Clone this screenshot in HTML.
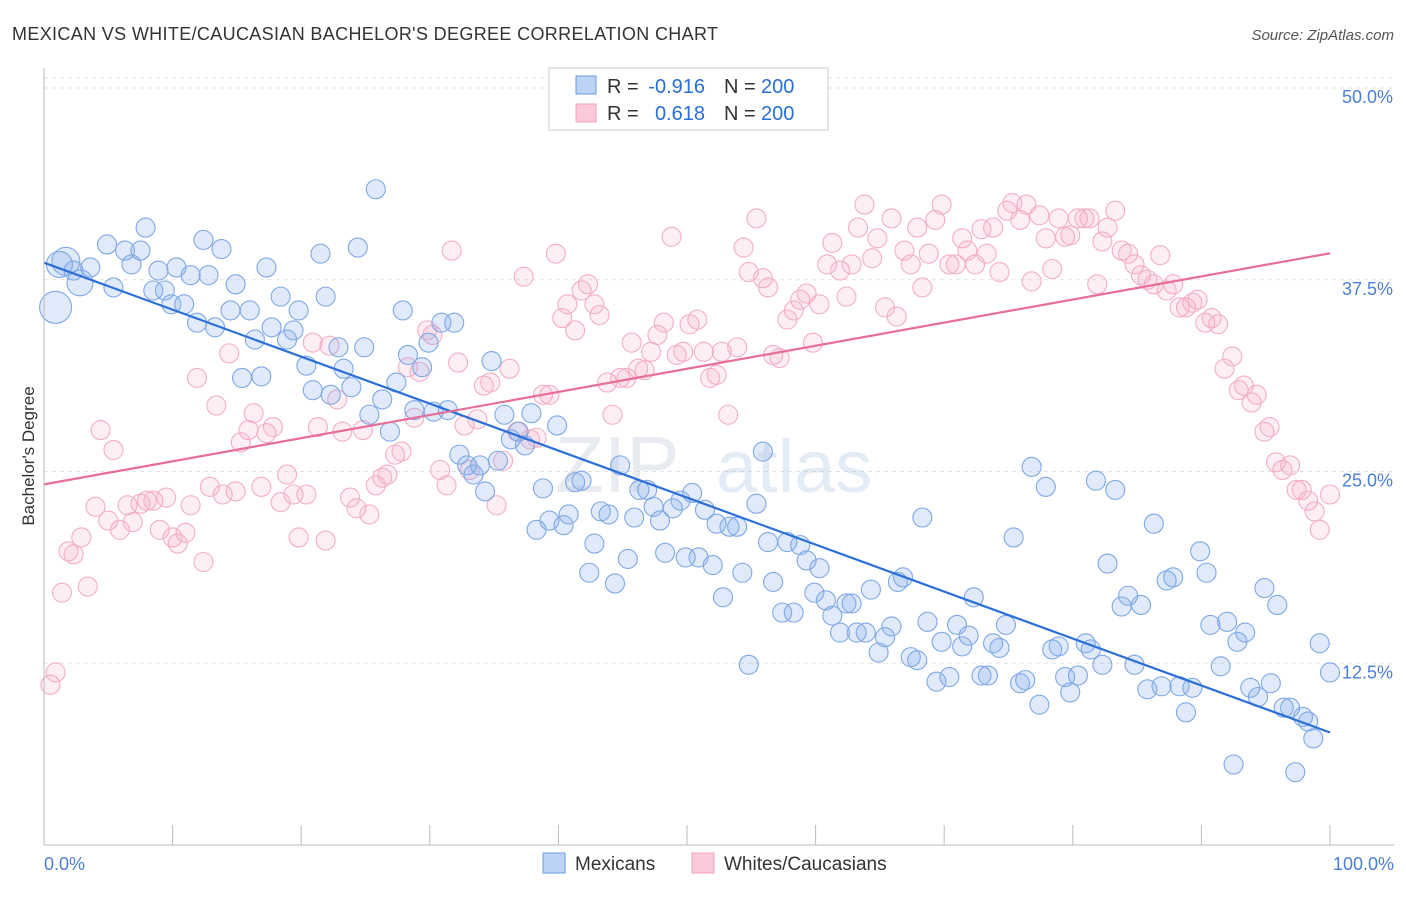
<!DOCTYPE html>
<html><head><meta charset="utf-8"><style>
body{margin:0;background:#fff;font-family:"Liberation Sans",sans-serif}
svg text{font-family:"Liberation Sans",sans-serif}
</style></head><body>
<svg id="c" width="1406" height="892" xmlns="http://www.w3.org/2000/svg">
<text x="12" y="40" font-size="18" fill="#333" textLength="706">MEXICAN VS WHITE/CAUCASIAN BACHELOR'S DEGREE CORRELATION CHART</text>
<text x="1394" y="40" font-size="15" fill="#555" font-style="italic" text-anchor="end">Source: ZipAtlas.com</text>
<text x="34" y="456" font-size="17" fill="#333" text-anchor="middle" transform="rotate(-90 34 456)">Bachelor's Degree</text>
<g id="grid"></g>
<g id="wm" opacity="0.22">
<text x="555" y="492" font-size="80" font-family="Liberation Serif" fill="#9aa8bc">ZIP</text>
<text x="716" y="492" font-size="74" fill="#7ea6da">atlas</text></g>
<g id="pts"></g>
<g id="lines"></g>
<g id="axes"></g>
<g>
<rect x="549" y="68" width="279" height="62" fill="#fff" stroke="#ccc"/>
<rect x="576" y="76" width="20" height="18" fill="#bcd3f5" stroke="#6a9be0"/>
<text x="607" y="93" font-size="20" fill="#333">R =</text>
<text x="705" y="93" font-size="20" fill="#2a6fd6" text-anchor="end">-0.916</text>
<text x="724" y="93" font-size="20" fill="#333">N =</text>
<text x="761" y="93" font-size="20" fill="#2a6fd6">200</text>
<rect x="576" y="104" width="20" height="18" fill="#fbc9d9" stroke="#f0a0bd"/>
<text x="607" y="120" font-size="20" fill="#333">R =</text>
<text x="705" y="120" font-size="20" fill="#2a6fd6" text-anchor="end">0.618</text>
<text x="724" y="120" font-size="20" fill="#333">N =</text>
<text x="761" y="120" font-size="20" fill="#2a6fd6">200</text>
</g>
<g>
<rect x="543" y="853" width="22" height="20" fill="#bcd3f5" stroke="#6a9be0"/>
<text x="575" y="870" font-size="19" fill="#333">Mexicans</text>
<rect x="692" y="853" width="22" height="20" fill="#fbc9d9" stroke="#f0a0bd"/>
<text x="724" y="870" font-size="19" fill="#333">Whites/Caucasians</text>
</g>
</svg>
<script>
const blueX=[0.9,1.2,1.7,2.8,2.3,3.6,4.9,5.4,6.3,6.8,7.5,7.9,8.5,8.9,9.4,9.9,10.3,10.9,11.4,11.9,12.4,12.8,13.3,13.8,14.5,14.9,15.4,16.0,16.4,16.9,17.3,17.7,18.4,18.9,19.4,19.8,20.4,20.9,21.5,21.9,22.3,22.9,23.3,23.9,24.4,24.9,25.3,25.8,26.3,26.9,27.4,27.9,28.3,28.8,29.4,29.9,30.3,30.9,31.4,31.9,32.3,32.9,33.4,33.9,34.3,34.8,35.3,35.8,36.3,36.9,37.4,37.9,38.3,38.8,39.3,39.9,40.4,40.8,41.3,41.8,42.4,42.8,43.3,43.9,44.4,44.8,45.4,45.9,46.3,46.9,47.4,47.9,48.3,48.9,49.5,49.9,50.4,50.9,51.4,52.0,52.3,52.8,53.3,53.9,54.3,54.8,55.4,55.9,56.3,56.7,57.4,57.8,58.3,58.8,59.3,59.9,60.3,60.8,61.3,61.9,62.4,62.8,63.2,63.9,64.3,64.9,65.4,65.9,66.4,66.8,67.4,67.9,68.3,68.7,69.4,69.8,70.4,71.0,71.4,71.9,72.3,72.9,73.4,73.8,74.3,74.8,75.4,75.9,76.3,76.8,77.4,77.9,78.4,78.9,79.4,79.8,80.4,81.0,81.4,81.8,82.3,82.7,83.3,83.8,84.3,84.8,85.3,85.8,86.3,86.9,87.3,87.8,88.3,88.8,89.3,89.9,90.4,90.7,91.5,92.0,92.5,92.8,93.4,93.8,94.4,94.9,95.4,95.9,96.4,96.9,97.3,97.9,98.3,98.7,99.2,100.0];
const blueY=[35.7,38.5,38.7,37.3,38.1,38.3,39.8,37.0,39.4,38.5,39.4,40.9,36.8,38.1,36.8,35.9,38.3,35.9,37.8,34.7,40.1,37.8,34.4,39.5,35.5,37.2,31.1,35.5,33.6,31.2,38.3,34.4,36.4,33.6,34.2,35.5,31.9,30.3,39.2,36.4,30.0,33.1,31.7,30.5,39.6,33.1,28.7,43.4,29.7,27.6,30.8,35.5,32.6,29.0,31.8,33.4,28.9,34.7,29.0,34.7,26.1,25.4,24.8,25.4,23.7,32.2,25.7,28.7,27.1,27.6,26.7,28.8,21.2,23.9,21.8,28.0,21.5,22.2,24.3,24.4,18.4,20.3,22.4,22.2,17.7,25.4,19.3,22.0,23.8,23.8,22.7,21.8,19.7,22.6,23.1,19.4,23.6,19.4,22.5,18.9,21.6,16.8,21.4,21.4,18.4,12.4,22.9,26.3,20.4,17.8,15.8,20.4,15.8,20.2,19.2,17.1,18.7,16.6,15.6,14.5,16.4,16.4,14.5,14.5,17.3,13.2,14.2,14.9,17.8,18.1,12.9,12.7,22.0,15.2,11.3,13.9,11.6,15.0,13.6,14.3,16.8,11.7,11.7,13.8,13.5,15.0,20.7,11.2,11.4,25.3,9.8,24.0,13.4,13.6,11.6,10.6,11.7,13.8,13.4,24.4,12.4,19.0,23.8,16.2,16.9,12.4,16.3,10.8,21.6,11.0,17.9,18.1,11.0,9.3,10.9,19.8,18.4,15.0,12.3,15.2,5.9,13.9,14.5,10.9,10.3,17.4,11.2,16.3,9.6,9.6,5.4,9.0,8.7,7.6,13.8,11.9];
const pinkX=[0.5,0.9,1.4,1.9,2.3,2.9,3.4,4.0,4.4,5.0,5.4,5.9,6.5,6.9,7.5,8.0,8.5,9.0,9.5,10.0,10.4,11.0,11.4,11.9,12.4,12.9,13.4,13.9,14.4,14.9,15.3,15.9,16.3,16.9,17.3,17.8,18.4,18.9,19.4,19.8,20.4,20.9,21.3,21.9,22.2,22.8,23.2,23.8,24.3,24.8,25.3,25.8,26.3,26.7,27.3,27.8,28.3,28.8,29.2,29.8,30.2,30.8,31.3,31.7,32.2,32.7,33.1,33.7,34.2,34.7,35.2,35.7,36.2,36.8,37.3,37.8,38.3,38.8,39.3,39.8,40.3,40.7,41.3,41.8,42.3,42.8,43.2,43.8,44.2,44.8,45.3,45.7,46.2,46.7,47.2,47.7,48.2,48.8,49.2,49.7,50.2,50.8,51.3,51.8,52.3,52.7,53.2,53.9,54.4,54.8,55.4,55.9,56.3,56.7,57.2,57.8,58.3,58.8,59.3,59.8,60.3,60.9,61.3,61.9,62.4,62.8,63.3,63.8,64.4,64.8,65.4,65.9,66.3,66.9,67.4,67.9,68.3,68.8,69.3,69.8,70.4,70.9,71.4,71.8,72.4,72.9,73.3,73.8,74.3,74.9,75.3,75.9,76.4,76.8,77.4,77.9,78.4,78.9,79.4,79.8,80.4,80.9,81.3,81.9,82.3,82.7,83.3,83.8,84.3,84.8,85.3,85.8,86.3,86.8,87.3,87.8,88.3,88.8,89.3,89.7,90.3,90.8,91.3,91.8,92.4,92.9,93.3,93.9,94.3,94.9,95.3,95.8,96.3,96.9,97.4,97.8,98.3,98.8,99.2,100];
const pinkY=[11.1,11.9,17.1,19.8,19.6,20.7,17.5,22.7,27.7,21.8,26.4,21.2,22.8,21.7,22.9,23.1,23.1,21.2,23.3,20.7,20.3,21.0,22.8,31.1,19.1,24.0,29.3,23.5,32.7,23.7,26.9,27.7,28.8,24.0,27.5,27.9,23.0,24.8,23.5,20.7,23.5,33.4,27.9,20.5,33.2,29.7,27.6,23.3,22.6,27.7,22.2,24.1,24.6,24.8,26.1,26.3,31.8,28.5,31.5,34.2,33.9,25.1,24.1,39.4,32.1,28.0,25.1,28.4,30.6,30.8,22.8,25.7,31.7,27.6,37.7,27.1,27.2,30.0,30.0,39.2,35.0,35.9,34.2,36.8,37.2,35.9,35.2,30.8,28.7,31.1,31.1,33.4,31.7,31.6,32.8,33.9,34.7,40.3,32.6,32.8,34.6,34.9,32.8,31.1,31.3,32.8,28.7,33.1,39.6,38.0,41.5,37.6,37.0,32.6,32.4,34.9,35.5,36.2,36.6,33.4,35.9,38.5,39.9,38.1,36.4,38.5,40.9,42.4,38.9,40.2,35.7,41.5,35.1,39.4,38.5,40.9,37.0,39.2,41.4,42.4,38.5,38.5,40.2,39.4,38.5,40.8,39.2,40.9,38.0,42.0,42.5,41.4,42.4,37.4,41.7,40.2,38.2,41.5,40.3,40.4,41.5,41.5,41.5,37.2,40.0,40.9,42.0,39.4,39.2,38.5,37.8,37.5,37.2,39.1,36.8,37.2,35.7,35.7,36.0,36.2,34.7,35.0,34.6,31.7,32.5,30.3,30.6,29.5,30.0,27.6,27.9,25.6,25.1,25.4,23.8,23.8,23.1,22.4,21.2,23.5];
const xTicks=["0.0%","100.0%"];
const yTickVals=[12.5,25,37.5,50];
const yTickLabels=["12.5%","25.0%","37.5%","50.0%"];
const NS="http://www.w3.org/2000/svg";
const X=v=>44+v*12.86, Y=v=>855-v*15.34;
function mk(t,a,p){const e=document.createElementNS(NS,t);for(const k in a)e.setAttribute(k,a[k]);p.appendChild(e);return e;}
const grid=document.getElementById('grid'),axes=document.getElementById('axes'),pts=document.getElementById('pts'),lines=document.getElementById('lines');
mk('line',{x1:44,x2:1394,y1:78,y2:78,stroke:'#e2e2e2','stroke-dasharray':'4 4'},grid);
yTickVals.forEach((v,i)=>{
 const l=mk('line',{x1:44,x2:1394,y1:Y(v),y2:Y(v),stroke:'#e2e2e2','stroke-dasharray':'4 4'},grid);
 
 
 const t=mk('text',{x:1393,y:Y(v)+15,'font-size':18,fill:'#4a7fd6','text-anchor':'end'},axes);
 t.textContent=yTickLabels[i];
 
 
});
mk('line',{x1:44,x2:44,y1:68,y2:845,stroke:'#bbb'},axes);
mk('line',{x1:44,x2:1394,y1:845,y2:845,stroke:'#bbb'},axes);
for(let i=0;i<=10;i++){mk('line',{x1:X(i*10),x2:X(i*10),y1:825,y2:845,stroke:'#bbb'},axes);}
const tl=mk('text',{x:44,y:870,'font-size':18,fill:'#4a7fd6'},axes);tl.textContent=xTicks[0];


const tr=mk('text',{x:1394,y:870,'font-size':18,fill:'#4a7fd6','text-anchor':'end'},axes);tr.textContent=xTicks[1];


function draw(xs,ys,fill,stroke,name,big){
 xs.forEach((x,i)=>{
  const r=(big&&i<4)?[16,13,14,13][i]:9.5;
  const c=mk('circle',{cx:X(x),cy:Y(ys[i]),r:r,fill:fill,stroke:stroke,'stroke-width':1.1},pts);
  
  
 });
}
draw(pinkX,pinkY,'rgba(246,170,196,0.2)','#f4adc6','white-point',false);
draw(blueX,blueY,'rgba(130,170,235,0.25)','#7ea8e6','mexican-point',true);
function reg(xs,ys,color,name){
 const n=xs.length;let mx=0,my=0;xs.forEach((x,i)=>{mx+=x;my+=ys[i];});mx/=n;my/=n;
 let sxy=0,sxx=0;xs.forEach((x,i)=>{sxy+=(x-mx)*(ys[i]-my);sxx+=(x-mx)**2;});
 const b=sxy/sxx,a=my-b*mx;
 const l=mk('line',{x1:X(0),y1:Y(a),x2:X(100),y2:Y(a+b*100),stroke:color,'stroke-width':2.2},lines);
 
 
}
reg(blueX,blueY,'#2b6fd8','mexican-trendline');
reg(pinkX,pinkY,'#e86d98','white-trendline');
</script>
</body></html>
